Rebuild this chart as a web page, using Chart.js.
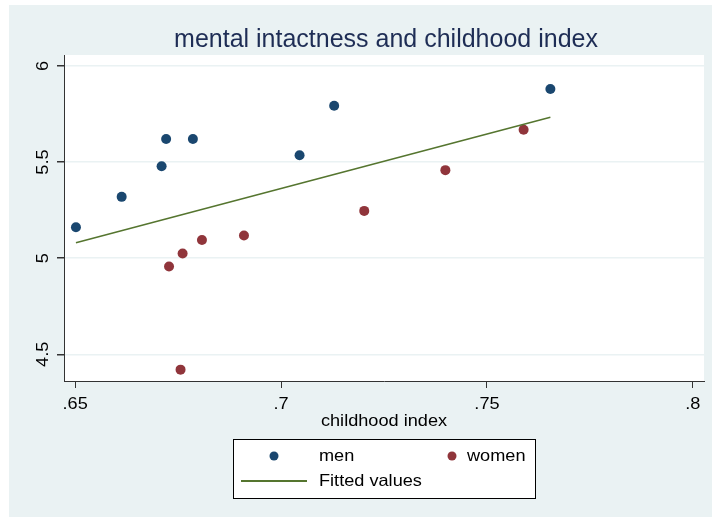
<!DOCTYPE html>
<html>
<head>
<meta charset="utf-8">
<script src="https://cdn.jsdelivr.net/npm/chart.js@4"></script>
<style>
  body { margin: 0; background: #fff; }
  canvas { display: block; }
</style>
</head>
<body>
<canvas id="chart" width="712" height="517"></canvas>
<script>
// values
const menX = [0.6502, 0.6613, 0.6710, 0.6721, 0.6786, 0.7045, 0.7129, 0.7654];
const menY = [5.161, 5.319, 5.478, 5.620, 5.620, 5.535, 5.793, 5.880];
const womenX = [0.6728, 0.6761, 0.6808, 0.6910, 0.6756, 0.7202, 0.7399, 0.7589];
const womenY = [4.957, 5.024, 5.095, 5.118, 4.420, 5.246, 5.458, 5.668];
const fitX = [0.6502, 0.7654];
const fitY = [5.080, 5.733];

const xTicks = [0.65, 0.7, 0.75, 0.8];
const xTickLabels = ['.65', '.7', '.75', '.8'];
const yTicks = [4.5, 5, 5.5, 6];
const yTickLabels = ['4.5', '5', '5.5', '6'];

const chartTitle = 'mental intactness and childhood index';
const xTitle = 'childhood index';
const legendNames = ['men', 'women', 'Fitted values'];

const NAVY = '#1a476f';
const MAROON = '#90353b';
const GREEN = '#55752f';
const PANEL = '#eaf2f3';
const FONT = '"Liberation Sans", Arial, sans-serif';
const SMALL = '16.5px ' + FONT;
const WIDEN = 1.1; // the original's small text is a bit wide

// text with a little horizontal stretch, anchored at (x, y)
function drawText(ctx, text, x, y, align, angle) {
    ctx.save();
    ctx.translate(x, y);
    if (angle) ctx.rotate(angle);
    ctx.scale(WIDEN, 1);
    ctx.textAlign = align;
    ctx.fillText(text, 0, 0);
    ctx.restore();
}

const toPoints = (xs, ys) => xs.map((x, i) => ({ x: x, y: ys[i] }));

// backgrounds, title, tick labels, x title and legend box
const stataLook = {
    id: 'stataLook',
    beforeDraw(chart) {
        const ctx = chart.ctx;
        const a = chart.chartArea;
        ctx.save();
        ctx.fillStyle = '#fff';
        ctx.fillRect(0, 0, chart.width, chart.height);
        ctx.fillStyle = PANEL;
        ctx.fillRect(9, 5, chart.width - 9, chart.height - 5);
        ctx.fillStyle = '#fff';
        ctx.fillRect(a.left, a.top, a.right - a.left, a.bottom - a.top);
        ctx.restore();
    },
    afterDraw(chart) {
        const ctx = chart.ctx;
        const a = chart.chartArea;
        const xScale = chart.scales.x;
        const yScale = chart.scales.y;
        ctx.save();

        // title
        ctx.fillStyle = '#1e2d55';
        ctx.font = '25px ' + FONT;
        ctx.textAlign = 'center';
        ctx.textBaseline = 'alphabetic';
        ctx.fillText(chartTitle, (a.left + a.right) / 2 + 2, 47);

        ctx.fillStyle = '#000';
        ctx.font = SMALL;

        // x tick labels
        xTicks.forEach((v, i) => {
            drawText(ctx, xTickLabels[i], xScale.getPixelForValue(v), 409, 'center');
        });

        // x axis title
        drawText(ctx, xTitle, (a.left + a.right) / 2, 426, 'center');

        // y tick labels, rotated like the original
        ctx.textBaseline = 'middle';
        yTicks.forEach((v, i) => {
            drawText(ctx, yTickLabels[i], 43, yScale.getPixelForValue(v), 'center', -Math.PI / 2);
        });

        // legend
        const box = { x: 233.5, y: 439.5, w: 302, h: 59 };
        ctx.fillStyle = '#fff';
        ctx.fillRect(box.x, box.y, box.w, box.h);
        ctx.strokeStyle = '#000';
        ctx.lineWidth = 1;
        ctx.strokeRect(box.x, box.y, box.w, box.h);

        ctx.fillStyle = NAVY;
        ctx.beginPath();
        ctx.arc(274, 456, 4.5, 0, Math.PI * 2);
        ctx.fill();
        ctx.fillStyle = MAROON;
        ctx.beginPath();
        ctx.arc(452, 456, 4.5, 0, Math.PI * 2);
        ctx.fill();
        ctx.strokeStyle = GREEN;
        ctx.lineWidth = 2;
        ctx.beginPath();
        ctx.moveTo(241, 481);
        ctx.lineTo(307, 481);
        ctx.stroke();

        ctx.fillStyle = '#000';
        drawText(ctx, legendNames[0], 319, 456, 'left');
        drawText(ctx, legendNames[1], 467, 456, 'left');
        drawText(ctx, legendNames[2], 319, 481, 'left');
        ctx.restore();
    }
};

new Chart(document.getElementById('chart'), {
    type: 'scatter',
    data: {
        datasets: [
            {
                label: legendNames[0],
                data: toPoints(menX, menY),
                backgroundColor: NAVY,
                borderColor: NAVY,
                pointRadius: 5,
                pointBorderWidth: 0
            },
            {
                label: legendNames[1],
                data: toPoints(womenX, womenY),
                backgroundColor: MAROON,
                borderColor: MAROON,
                pointRadius: 5,
                pointBorderWidth: 0
            },
            {
                label: legendNames[2],
                type: 'line',
                data: toPoints(fitX, fitY),
                borderColor: GREEN,
                borderWidth: 1.6,
                pointRadius: 0,
                fill: false,
                order: -1
            }
        ]
    },
    options: {
        responsive: false,
        animation: false,
        devicePixelRatio: 1,
        layout: { padding: { left: 0, top: 55, right: 8, bottom: 0 } },
        plugins: {
            legend: { display: false },
            title: { display: false },
            tooltip: { enabled: false }
        },
        scales: {
            x: {
                type: 'linear',
                min: 0.6473,
                max: 0.8027,
                afterBuildTicks: s => { s.ticks = xTicks.map(v => ({ value: v })); },
                afterFit: s => { s.height = 136; },
                ticks: { display: false },
                grid: {
                    drawOnChartArea: false,
                    tickLength: 7,
                    tickColor: '#333'
                },
                border: { color: '#333', width: 1 }
            },
            y: {
                type: 'linear',
                min: 4.361,
                max: 6.057,
                afterBuildTicks: s => { s.ticks = yTicks.map(v => ({ value: v })); },
                afterFit: s => { s.width = 64; },
                ticks: { display: false },
                grid: {
                    color: PANEL,
                    lineWidth: 1.5,
                    tickLength: 7,
                    tickColor: '#333'
                },
                border: { color: '#333', width: 1 }
            }
        }
    },
    plugins: [stataLook]
});
</script>
</body>
</html>
